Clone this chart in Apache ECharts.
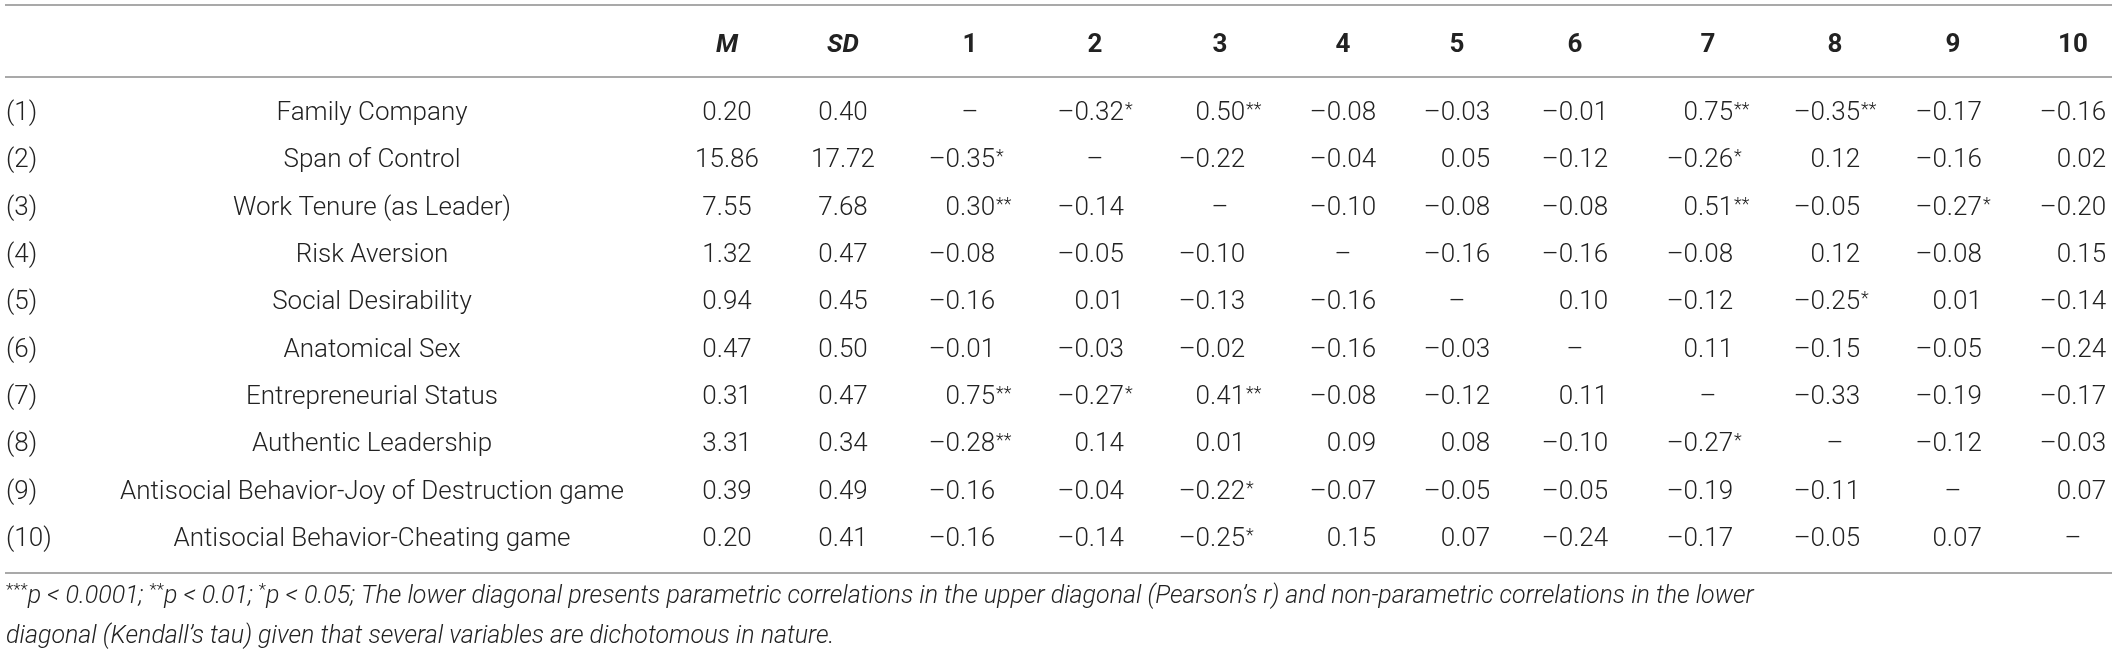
<html>
<head>
  <meta charset="utf-8" />
  <title>Descriptive statistics and correlations</title>
  <script src="https://cdn.jsdelivr.net/npm/echarts@6.0.0/dist/echarts.min.js"></script>
</head>
<body style="margin: 0; background-color: #ffffff">
  <div id="main" style="width: 2118px; height: 660px"></div>
  <script type="text/javascript">
    // table content
    var rowCodes = ['(1)', '(2)', '(3)', '(4)', '(5)', '(6)', '(7)', '(8)', '(9)', '(10)'];
    var varNames = ['Family Company', 'Span of Control', 'Work Tenure (as Leader)', 'Risk Aversion',
        'Social Desirability', 'Anatomical Sex', 'Entrepreneurial Status', 'Authentic Leadership',
        'Antisocial Behavior-Joy of Destruction game', 'Antisocial Behavior-Cheating game'];
    var means = [0.20, 15.86, 7.55, 1.32, 0.94, 0.47, 0.31, 3.31, 0.39, 0.20];
    var sds = [0.40, 17.72, 7.68, 0.47, 0.45, 0.50, 0.47, 0.34, 0.49, 0.41];
    var colHeaders = ['M', 'SD', '1', '2', '3', '4', '5', '6', '7', '8', '9', '10'];
    // null = diagonal
    var corrValues = [
        [null, -0.32, 0.50, -0.08, -0.03, -0.01, 0.75, -0.35, -0.17, -0.16],
        [-0.35, null, -0.22, -0.04, 0.05, -0.12, -0.26, 0.12, -0.16, 0.02],
        [0.30, -0.14, null, -0.10, -0.08, -0.08, 0.51, -0.05, -0.27, -0.20],
        [-0.08, -0.05, -0.10, null, -0.16, -0.16, -0.08, 0.12, -0.08, 0.15],
        [-0.16, 0.01, -0.13, -0.16, null, 0.10, -0.12, -0.25, 0.01, -0.14],
        [-0.01, -0.03, -0.02, -0.16, -0.03, null, 0.11, -0.15, -0.05, -0.24],
        [0.75, -0.27, 0.41, -0.08, -0.12, 0.11, null, -0.33, -0.19, -0.17],
        [-0.28, 0.14, 0.01, 0.09, 0.08, -0.10, -0.27, null, -0.12, -0.03],
        [-0.16, -0.04, -0.22, -0.07, -0.05, -0.05, -0.19, -0.11, null, 0.07],
        [-0.16, -0.14, -0.25, 0.15, 0.07, -0.24, -0.17, -0.05, 0.07, null]
    ];
    // number of significance asterisks
    var corrStars = [
        [0, 1, 2, 0, 0, 0, 2, 2, 0, 0],
        [1, 0, 0, 0, 0, 0, 1, 0, 0, 0],
        [2, 0, 0, 0, 0, 0, 2, 0, 1, 0],
        [0, 0, 0, 0, 0, 0, 0, 0, 0, 0],
        [0, 0, 0, 0, 0, 0, 0, 1, 0, 0],
        [0, 0, 0, 0, 0, 0, 0, 0, 0, 0],
        [2, 1, 2, 0, 0, 0, 0, 0, 0, 0],
        [2, 0, 0, 0, 0, 0, 1, 0, 0, 0],
        [0, 0, 1, 0, 0, 0, 0, 0, 0, 0],
        [0, 0, 1, 0, 0, 0, 0, 0, 0, 0]
    ];
    var footLine1 = '{s|***}{i|p < 0.0001; }{s|**}{i|p < 0.01; }{s|*}{i|p < 0.05; The lower diagonal presents parametric correlations in the upper diagonal (Pearson\u2019s r) and non-parametric correlations in the lower}';
    var footLine2 = '{i|diagonal (Kendall\u2019s tau) given that several variables are dichotomous in nature.}';

    // layout
    var FAMILY = 'Roboto';
    var INK = '#222222';
    var RULE = '#a9a9a9';
    var codeX = 6, nameX = 372;
    var colX = [727, 843, 970, 1095, 1220, 1343, 1457, 1575, 1708, 1835, 1953, 2073];
    var headerY = 45, ruleY = [5, 77, 573], footY = [597, 637];
    var rowTop = 90, rowBand = 47.3;
    var FS = 26, SUP = 18;

    var ctx = document.createElement('canvas').getContext('2d');
    function textW(s, font) { ctx.font = font; return ctx.measureText(s).width; }
    function fmt(v) { return v.toFixed(2).replace('-', '\u2013'); }
    var numFont = '300 ' + FS + 'px ' + FAMILY;
    var supFont = '300 ' + SUP + 'px ' + FAMILY;

    // decimal alignment: right edge of numbers per correlation column, block centered on header
    var rightEdge = [];
    for (var c = 0; c < 10; c++) {
        var maxN = 0, maxS = 0;
        for (var r = 0; r < 10; r++) {
            if (corrValues[r][c] === null) continue;
            maxN = Math.max(maxN, textW(fmt(corrValues[r][c]), numFont));
            maxS = Math.max(maxS, corrStars[r][c] ? textW('**'.slice(0, corrStars[r][c]), supFont) + 1 : 0);
        }
        rightEdge.push(colX[c + 2] + (maxN - maxS) / 2);
    }

    var cells = [];
    for (var r = 0; r < 10; r++) {
        cells.push({value: [codeX, r], text: rowCodes[r], align: 'left'});
        cells.push({value: [nameX, r], text: varNames[r], align: 'center'});
        cells.push({value: [colX[0], r], text: means[r].toFixed(2), align: 'center'});
        cells.push({value: [colX[1], r], text: sds[r].toFixed(2), align: 'center'});
        for (var c = 0; c < 10; c++) {
            if (corrValues[r][c] === null)
                cells.push({value: [colX[c + 2], r], text: '\u2013', align: 'center'});
            else
                cells.push({value: [rightEdge[c], r], text: fmt(corrValues[r][c]), align: 'right',
                    stars: '**'.slice(0, corrStars[r][c])});
        }
    }

    function renderCell(params, api) {
        var d = cells[params.dataIndex];
        var p = api.coord([api.value(0), api.value(1)]);
        var kids = [{
            type: 'text', x: p[0], y: p[1],
            style: {text: d.text, fill: INK, font: numFont, align: d.align, verticalAlign: 'middle'}
        }];
        if (d.stars) {
            kids.push({
                type: 'text', x: p[0] + 1, y: p[1] - 3,
                style: {text: d.stars, fill: INK, font: supFont, align: 'left', verticalAlign: 'middle'}
            });
        }
        return {type: 'group', children: kids};
    }

    var graphics = [];
    ruleY.forEach(function (y) {
        graphics.push({type: 'line', shape: {x1: 5, y1: y, x2: 2112, y2: y},
            style: {stroke: RULE, lineWidth: 2}, silent: true});
    });
    colHeaders.forEach(function (h, i) {
        graphics.push({type: 'text', x: colX[i], y: headerY,
            style: {text: h, fill: INK, align: 'center', verticalAlign: 'middle',
                font: (i < 2 ? 'italic ' : '') + 'bold ' + FS + 'px ' + FAMILY}});
    });
    [footLine1, footLine2].forEach(function (t, i) {
        graphics.push({type: 'text', x: codeX, y: footY[i],
            style: {text: t, align: 'left', verticalAlign: 'middle',
                rich: {
                    i: {fontFamily: FAMILY, fontStyle: 'italic', fontWeight: 300, fontSize: 25, lineHeight: 30, fill: INK},
                    s: {fontFamily: FAMILY, fontWeight: 300, fontSize: 17, lineHeight: 24, verticalAlign: 'top', fill: INK}
                }}});
    });

    var myChart = echarts.init(document.getElementById('main'));
    var option = {
        animation: false,
        grid: {left: 0, right: 0, top: rowTop, height: rowBand * 10},
        xAxis: {type: 'value', min: 0, max: 2118, show: false},
        yAxis: {type: 'category', data: rowCodes, inverse: true, show: false},
        series: [{
            type: 'custom',
            renderItem: renderCell,
            data: cells,
            encode: {x: 0, y: 1},
            silent: true
        }],
        graphic: graphics
    };
    myChart.setOption(option);
  </script>
</body>
</html>
